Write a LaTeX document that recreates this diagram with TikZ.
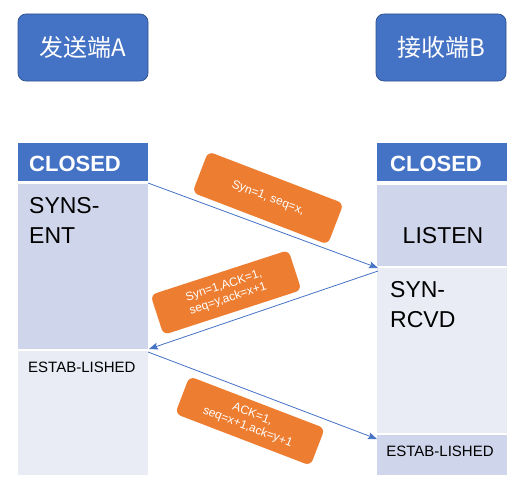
\documentclass[tikz,border=0pt]{standalone}
\usepackage{fontspec}
\setmainfont{Liberation Sans}
\newfontfamily\cjk{Noto Sans CJK SC}
\usetikzlibrary{arrows.meta}
\definecolor{hblue}{HTML}{4472C4}
\definecolor{hborder}{HTML}{2F528F}
\definecolor{darkcell}{HTML}{CFD5EA}
\definecolor{lightcell}{HTML}{E9EBF5}
\definecolor{orng}{HTML}{ED7D31}
\begin{document}
\begin{tikzpicture}[x=1pt,y=-1pt,
  titlebox/.style={draw=hborder, line width=0.75pt, fill=hblue, rounded corners=8pt,
    minimum width=130pt, minimum height=67pt, text=white, inner sep=0pt,
    font=\cjk\fontsize{24}{24}\selectfont},
  cell/.style={anchor=north west, minimum width=130pt, inner sep=0pt, draw=none},
  hdr/.style={cell, fill=hblue, minimum height=38pt},
  hdrtext/.style={anchor=base west, inner sep=0pt, text=white, font=\bfseries\fontsize{22}{22}\selectfont},
  bigtext/.style={inner sep=0pt, font=\fontsize{23}{23}\selectfont},
  smalltext/.style={inner sep=0pt, font=\fontsize{15}{15}\selectfont},
  msg/.style={draw=hblue, line width=0.8pt, -{Stealth[length=9pt,width=7pt,inset=1.5pt]}},
  lbl/.style={fill=orng, rounded corners=6pt, minimum width=145pt, minimum height=42pt,
    text=white, align=center, inner sep=0pt, font=\fontsize{12}{13.5}\selectfont}
]
\useasboundingbox (0,0) rectangle (527,495);

% titles
\node[titlebox] (ta) at (83,47.5) {发送端A};
\node[titlebox] (tb) at (441,47.5) {接收端B};

% left column
\node[hdr] (lc) at (18,143) {};
\node[cell, fill=darkcell, minimum height=165pt] (ls) at (18,184) {};
\node[cell, fill=lightcell, minimum height=124pt] (le) at (18,351) {};
% right column
\node[hdr] (rc) at (377,143) {};
\node[cell, fill=darkcell, minimum height=81pt] (rl) at (377,185) {};
\node[cell, fill=lightcell, minimum height=165pt] (rs) at (377,268) {};
\node[cell, fill=darkcell, minimum height=40pt] (re) at (377,435) {};

% texts
\node[hdrtext] (lct) at (29,171.5) {CLOSED};
\node[hdrtext] (rct) at (390,171.5) {CLOSED};
\node[bigtext, anchor=base west] (lst1) at (29,213) {SYNS-};
\node[bigtext, anchor=base west] (lst2) at (29,243) {ENT};
\node[bigtext, anchor=base] (rlt) at (443,243) {LISTEN};
\node[bigtext, anchor=base west] (rst1) at (390,297) {SYN-};
\node[bigtext, anchor=base west] (rst2) at (390,327) {RCVD};
\node[smalltext, anchor=base west] (let) at (28,372) {ESTAB-LISHED};
\node[smalltext, anchor=base] (ret) at (440,456) {ESTAB-LISHED};

% connector end points
\coordinate (a1s) at (148,183);
\coordinate (a1e) at (378,268);
\coordinate (a2s) at (378,271);
\coordinate (a2e) at (149,349);
\coordinate (a3s) at (148,352);
\coordinate (a3e) at (377,439);

\draw[msg] (a1s) -- (a1e);
\draw[msg] (a2s) -- (a2e);
\draw[msg] (a3s) -- (a3e);

% labels
\node[lbl, rotate=-21, minimum height=44pt] (l1) at (268,198) {Syn=1, seq=x,};
\node[lbl, rotate=18] (l2) at (226,292.5) {Syn=1,ACK=1,\\seq=y,ack=x+1};
\node[lbl, rotate=-21, minimum height=40pt] (l3) at (250,421) {ACK=1,\\seq=x+1,ack=y+1};
\end{tikzpicture}
\end{document}
